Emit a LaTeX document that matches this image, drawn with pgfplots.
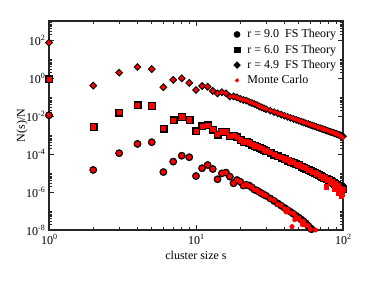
\documentclass[border=0pt]{standalone}
\usepackage{pgfplots}
\pgfplotsset{compat=1.18}
\usepackage{fontspec}
\setmainfont{Liberation Serif}
\newcommand\sups[1]{\raisebox{0.42em}{\fontsize{8bp}{9bp}\selectfont #1}}
\begin{document}
\fontsize{12bp}{14bp}\selectfont
\begin{tikzpicture}
\useasboundingbox (-49bp,-59bp) rectangle (325bp,230bp);
\begin{axis}[
  at={(0,0)}, anchor=south west,
  scale only axis, width=294bp, height=209bp,
  xmode=log, ymode=log,
  xmin=1, xmax=100, ymin=1e-8, ymax=1e3,
  xtick={1,10,100},
  xticklabels={10\sups{0},10\sups{1},10\sups{2}},
  minor xtick={2,3,4,5,6,7,8,9,20,30,40,50,60,70,80,90},
  ytick={1e-8,1e-6,1e-4,1e-2,1,1e2},
  yticklabels={10\sups{-8},10\sups{-6},10\sups{-4},10\sups{-2},10\sups{0},10\sups{2}},
  minor ytick={2e-8,3e-8,4e-8,5e-8,6e-8,7e-8,8e-8,9e-8,
               2e-6,3e-6,4e-6,5e-6,6e-6,7e-6,8e-6,9e-6,
               2e-4,3e-4,4e-4,5e-4,6e-4,7e-4,8e-4,9e-4,
               2e-2,3e-2,4e-2,5e-2,6e-2,7e-2,8e-2,9e-2,
               2,3,4,5,6,7,8,9,
               200,300,400,500,600,700,800,900},
  tick align=inside,
  major tick length=5bp, minor tick length=3bp,
  axis line style={line width=1.2bp, black!85},
  every tick/.style={black!85, line width=0.8bp},
  xlabel={cluster size s}, ylabel={N(s)/N},
  every axis x label/.style={at={(axis description cs:0.5,-0.12)}, anchor=center},
  every axis y label/.style={at={(axis description cs:-0.092,0.5)}, rotate=90, anchor=center},
  legend style={draw=none, fill=none, at={(axis description cs:0.624,0.975)}, anchor=north west,
                row sep=1.2bp, column sep=5bp, inner sep=1bp, font=\fontsize{12bp}{13bp}\selectfont},
  legend cell align=left,
]
\addlegendimage{only marks, mark=*, black, mark size=3.1}
\addlegendentry{r = 9.0\ \ FS Theory}
\addlegendimage{only marks, mark=square*, black, mark size=2.8}
\addlegendentry{r = 6.0\ \ FS Theory}
\addlegendimage{only marks, mark=diamond*, black, mark size=3.4, mark options={xscale=1.33}}
\addlegendentry{r = 4.9\ \ FS Theory}
\addlegendimage{only marks, mark=*, red, mark size=1.9}
\addlegendentry{Monte Carlo}

% FS theory, r = 9.0
\addplot[only marks, mark=*, black, mark size=3.7, forget plot] coordinates {
(1,1.10e-2)(2,1.45e-5)(3,1.10e-4)(4,3.39e-4)(5,4.17e-4)(6,1.12e-5)(7,3.98e-5)(8,8.13e-5)(9,6.76e-5)(10,6.92e-6)
(11,1.78e-5)(12,2.63e-5)(13,1.62e-5)(14,4.68e-6)(15,9.55e-6)(16,1.05e-5)(17,6.46e-6)(18,2.88e-6)(19,4.27e-6)(20,3.47e-6)
(21,2.19e-6)(22,2.40e-6)(23,2.19e-6)(24,1.74e-6)(25,1.32e-6)(26,1.20e-6)(27,1.00e-6)(28,8.32e-7)(29,7.24e-7)(30,6.31e-7)
(32,4.57e-7)(34,3.39e-7)(36,2.51e-7)(38,1.91e-7)(40,1.45e-7)(42,1.12e-7)(44,8.91e-8)(46,7.08e-8)(48,5.62e-8)(50,4.47e-8)
(52,3.55e-8)(54,2.82e-8)(56,2.19e-8)(58,1.66e-8)(60,1.26e-8)(61,1.10e-8)(62,9.8e-9)};
% FS theory, r = 6.0
\addplot[only marks, mark=square*, black, mark size=3.5, forget plot] coordinates {
(1,8.91e-1)(2,2.75e-3)(3,1.55e-2)(4,3.80e-2)(5,3.47e-2)(6,2.24e-3)(7,6.17e-3)(8,9.12e-3)(9,6.46e-3)(10,1.62e-3)
(11,2.95e-3)(12,3.39e-3)(13,2.00e-3)(14,1.10e-3)(15,1.48e-3)(16,1.48e-3)(17,8.91e-4)(18,9.55e-4)(19,7.94e-4)(20,5.62e-4)
(21,4.57e-4)(22,4.68e-4)(23,3.98e-4)(24,3.16e-4)(25,2.69e-4)(26,2.51e-4)(27,2.19e-4)(28,1.91e-4)(29,1.66e-4)(30,1.45e-4)
(32,1.16e-4)(34,9.51e-5)(36,7.85e-5)(38,6.55e-5)(40,5.51e-5)(42,4.69e-5)(44,4.01e-5)(46,3.45e-5)(48,2.99e-5)(50,2.61e-5)
(52,2.26e-5)(54,1.96e-5)(56,1.72e-5)(58,1.51e-5)(60,1.33e-5)(62,1.18e-5)(64,1.05e-5)(66,9.35e-6)(68,8.38e-6)(70,7.52e-6)
(72,6.68e-6)(74,5.96e-6)(76,5.32e-6)(78,4.78e-6)(80,4.29e-6)(82,3.86e-6)(84,3.49e-6)(86,3.12e-6)(88,2.79e-6)(90,2.51e-6)
(92,2.25e-6)(94,2.04e-6)(96,1.84e-6)(98,1.67e-6)(100,1.51e-6)};
% FS theory, r = 4.9
\addplot[only marks, mark=diamond*, black, mark size=3.7, mark options={xscale=1.33}, forget plot] coordinates {
(1,7.24e1)(2,3.98e-1)(3,1.91)(4,3.80)(5,2.95)(6,3.24e-1)(7,7.94e-1)(8,9.55e-1)(9,5.50e-1)(10,2.34e-1)
(11,3.80e-1)(12,3.47e-1)(13,2.09e-1)(14,1.55e-1)(15,1.78e-1)(16,1.55e-1)(17,1.05e-1)(18,1.07e-1)(19,9.55e-2)(20,7.94e-2)
(21,6.92e-2)(22,6.46e-2)(23,5.50e-2)(24,4.79e-2)(25,4.27e-2)(26,3.72e-2)(27,3.16e-2)(28,2.82e-2)(29,2.51e-2)(30,2.24e-2)
(32,1.89e-2)(34,1.60e-2)(36,1.37e-2)(38,1.18e-2)(40,1.03e-2)(42,9.02e-3)(44,7.94e-3)(46,7.05e-3)(48,6.28e-3)(50,5.62e-3)
(52,5.06e-3)(54,4.57e-3)(56,4.14e-3)(58,3.77e-3)(60,3.43e-3)(62,3.14e-3)(64,2.88e-3)(66,2.65e-3)(68,2.44e-3)(70,2.26e-3)
(72,2.09e-3)(74,1.95e-3)(76,1.81e-3)(78,1.69e-3)(80,1.57e-3)(82,1.47e-3)(84,1.38e-3)(86,1.29e-3)(88,1.22e-3)(90,1.14e-3)
(92,1.08e-3)(94,1.02e-3)(96,9.59e-4)(98,9.08e-4)(100,8.59e-4)};

% Monte Carlo, r = 9.0
\addplot[only marks, mark=*, red, mark size=2.3, forget plot] coordinates {
(1,1.10e-2)(2,1.45e-5)(3,1.10e-4)(4,3.39e-4)(5,4.17e-4)(6,1.12e-5)(7,3.98e-5)(8,8.13e-5)(9,6.76e-5)(10,6.92e-6)
(11,1.78e-5)(12,2.63e-5)(13,1.62e-5)(14,4.68e-6)(15,9.55e-6)(16,1.05e-5)(17,6.46e-6)(18,2.88e-6)(19,4.27e-6)(20,3.47e-6)
(21,2.1e-6)(22,2.5e-6)(23,2.1e-6)(24,1.8e-6)(25,1.3e-6)(26,1.25e-6)(27,9.5e-7)(28,8.6e-7)(29,7.0e-7)(30,6.5e-7)
(32,4.4e-7)(34,3.6e-7)(36,2.3e-7)(38,2.0e-7)(40,1.3e-7)(41,9.0e-8)(42,1.2e-7)(44,8.0e-8)(45,1.5e-8)(46,7.5e-8)
(47,3.5e-8)(48,5.0e-8)(50,4.2e-8)(52,3.0e-8)(53,1.9e-8)(54,2.9e-8)(56,1.8e-8)(58,1.7e-8)(60,1.1e-8)(65,1.0e-8)};
% Monte Carlo, r = 6.0
\addplot[only marks, mark=square*, red, mark size=2.2, forget plot] coordinates {
(1,8.91e-1)(2,2.75e-3)(3,1.55e-2)(4,3.80e-2)(5,3.47e-2)(6,2.24e-3)(7,6.17e-3)(8,9.12e-3)(9,6.46e-3)(10,1.62e-3)
(11,2.95e-3)(12,3.39e-3)(13,2.00e-3)(14,1.10e-3)(15,1.48e-3)(16,1.48e-3)(17,8.91e-4)(18,9.55e-4)(19,7.94e-4)(20,5.62e-4)
(21,4.5e-4)(22,4.8e-4)(23,3.9e-4)(24,3.2e-4)(25,2.7e-4)(26,2.55e-4)(27,2.2e-4)(28,1.95e-4)(29,1.62e-4)(30,1.5e-4)
(32,1.2e-4)(34,9.8e-5)(36,7.6e-5)(38,6.8e-5)(40,5.6e-5)(42,4.9e-5)(44,4.0e-5)(46,3.6e-5)(48,2.9e-5)(50,2.7e-5)
(52,2.2e-5)(54,2.0e-5)(56,1.8e-5)(58,1.45e-5)(60,1.38e-5)(62,1.1e-5)(64,1.08e-5)(66,9.0e-6)(68,8.6e-6)(70,7.0e-6)
(72,7.0e-6)(74,5.5e-6)(76,5.6e-6)(77,1.9e-6)(78,4.4e-6)(80,4.5e-6)(82,3.5e-6)(84,3.6e-6)(86,2.8e-6)(87,1.5e-6)(88,2.9e-6)
(90,2.2e-6)(92,2.3e-6)(93,9.0e-7)(94,1.6e-6)(96,1.5e-6)(97,6.0e-7)(98,1.2e-6)(99,8.0e-7)(100,1.4e-6)};
% Monte Carlo, r = 4.9
\addplot[only marks, mark=diamond*, red, mark size=2.2, mark options={xscale=1.33}, forget plot] coordinates {
(1,7.24e1)(2,3.98e-1)(3,1.91)(4,3.80)(5,2.95)(6,3.24e-1)(7,7.94e-1)(8,9.55e-1)(9,5.50e-1)(10,2.34e-1)
(11,3.80e-1)(12,3.47e-1)(13,2.09e-1)(14,1.55e-1)(15,1.78e-1)(16,1.55e-1)(17,1.05e-1)(18,1.07e-1)(19,9.55e-2)(20,7.94e-2)
(21,7.1e-2)(22,6.6e-2)(23,5.7e-2)(24,4.9e-2)(25,4.4e-2)(26,3.9e-2)(27,3.25e-2)(28,2.95e-2)(29,2.6e-2)(30,2.35e-2)
(32,1.95e-2)(34,1.68e-2)(36,1.42e-2)(38,1.24e-2)(40,1.07e-2)(42,9.5e-3)(44,8.2e-3)(46,7.4e-3)(48,6.5e-3)(50,5.9e-3)
(52,5.3e-3)(54,4.7e-3)(56,4.4e-3)(58,3.9e-3)(60,3.6e-3)(62,3.25e-3)(64,3.0e-3)(66,2.8e-3)(68,2.5e-3)(70,2.4e-3)
(72,2.15e-3)(74,2.05e-3)(76,1.85e-3)(78,1.8e-3)(80,1.6e-3)(82,1.55e-3)(84,1.4e-3)(86,1.35e-3)(88,1.2e-3)(90,1.18e-3)
(92,1.05e-3)(94,1.0e-3)(96,9.0e-4)(98,8.2e-4)(100,7.2e-4)};
\end{axis}
\end{tikzpicture}
\end{document}
